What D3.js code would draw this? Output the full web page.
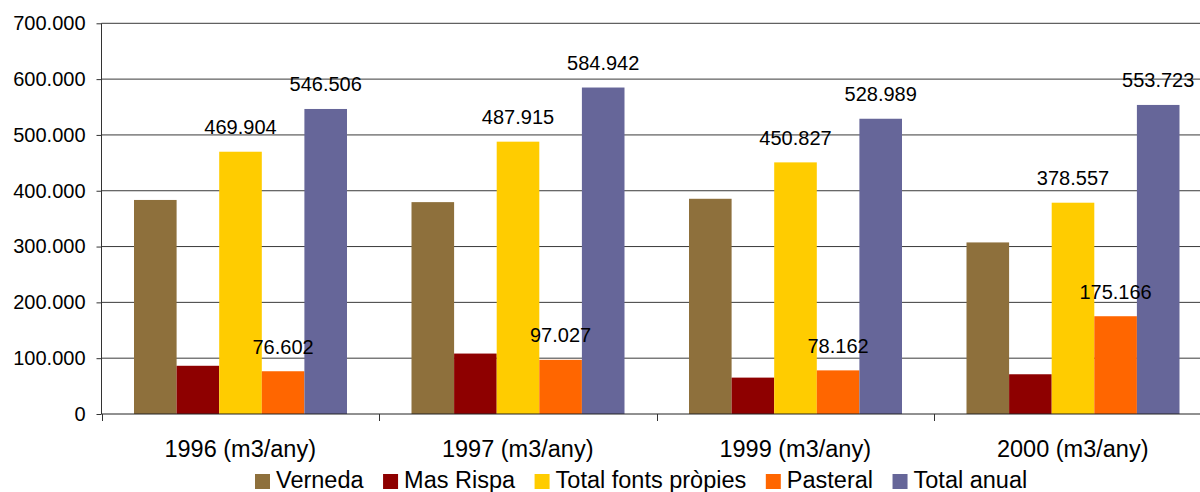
<!DOCTYPE html>
<html lang="ca">
  <head>
    <meta charset="utf-8">
    <title>Cabals anuals</title>
    <script src="https://d3js.org/d3.v7.min.js"></script>
    <style>
      body { margin: 0; background: #fff; }
      text { font-family: "Liberation Sans", Arial, sans-serif; fill: #000; }
    </style>
  </head>
  <body>
    <script type="text/javascript">
    var w = 1200;
    var h = 492;

    // data
    var categories = ["1996 (m3/any)", "1997 (m3/any)", "1999 (m3/any)", "2000 (m3/any)"];
    var seriesNames = ["Verneda", "Mas Rispa", "Total fonts pròpies", "Pasteral", "Total anual"];
    var seriesColors = ["#8E703C", "#8E0000", "#FFCC00", "#FF6600", "#666699"];
    var verneda   = [383500, 379600, 385600, 307400];
    var masRispa  = [86400, 108300, 65200, 71200];
    var totalFonts = [469904, 487915, 450827, 378557];
    var pasteral  = [76602, 97027, 78162, 175166];
    var totalAnual = [546506, 584942, 528989, 553723];
    var yTicks = [0, 100000, 200000, 300000, 400000, 500000, 600000, 700000];
    // which series get a value label
    var labelled = [false, false, true, true, true];

    var values = [verneda, masRispa, totalFonts, pasteral, totalAnual];

    var x0 = d3.scaleBand()
               .domain(categories)
               .range([101.5, 1211.5])
               .padding(0);

    var x1 = d3.scaleBand()
               .domain(d3.range(seriesNames.length))
               .range([32.5, 245.5])
               .padding(0);

    var y = d3.scaleLinear()
              .domain([0, 700000])
              .range([414, 23.3]);

    var fmt = function(v) {
      return d3.format(",")(v).replace(/,/g, ".");
    };

    var svg = d3.select("body")
                .append("svg")
                .attr("width", w)
                .attr("height", h);

    // gridlines
    svg.append("g")
       .selectAll("line")
       .data(yTicks.slice(1))
       .enter()
       .append("line")
       .attr("x1", 101.5)
       .attr("x2", w)
       .attr("y1", function(d) { return y(d); })
       .attr("y2", function(d) { return y(d); })
       .attr("stroke", "#3a3a3a")
       .attr("stroke-width", 1);

    // bars
    var table = [];
    categories.forEach(function(c, i) {
      seriesNames.forEach(function(s, j) {
        table.push({ cat: c, s: j, v: values[j][i] });
      });
    });

    svg.append("g")
       .selectAll("rect")
       .data(table)
       .enter()
       .append("rect")
       .attr("x", function(d) { return x0(d.cat) + x1(d.s); })
       .attr("y", function(d) { return y(d.v); })
       .attr("width", x1.bandwidth())
       .attr("height", function(d) { return y(0) - y(d.v); })
       .attr("fill", function(d) { return seriesColors[d.s]; });

    // y axis
    var yAxis = d3.axisLeft(y)
                  .tickValues(yTicks)
                  .tickSize(5)
                  .tickPadding(11)
                  .tickFormat(function(d) { return d === 0 ? "0" : fmt(d); });

    var gy = svg.append("g")
                .attr("transform", "translate(101.5,0)")
                .call(yAxis);
    gy.select(".domain").attr("stroke", "#333").attr("d", "M0,23.3V414");
    gy.selectAll(".tick line").attr("stroke", "#333");
    gy.selectAll("text")
      .style("font-family", "'Liberation Sans', Arial, sans-serif")
      .style("font-size", "20px")
      .attr("fill", "#000");

    // x axis
    var gx = svg.append("g")
                .attr("transform", "translate(0,414)");
    gx.append("line")
      .attr("x1", 101.5)
      .attr("x2", w)
      .attr("stroke", "#222");
    gx.selectAll(".sep")
      .data(categories.concat(["end"]))
      .enter()
      .append("line")
      .attr("class", "sep")
      .attr("x1", function(d, i) { return Math.round(x0.range()[0] + i * x0.step()) + 0.5; })
      .attr("x2", function(d, i) { return Math.round(x0.range()[0] + i * x0.step()) + 0.5; })
      .attr("y1", 0)
      .attr("y2", 7)
      .attr("stroke", "#333");
    gx.selectAll(".cat")
      .data(categories)
      .enter()
      .append("text")
      .attr("class", "cat")
      .attr("x", function(d) { return x0(d) + x0.bandwidth() / 2; })
      .attr("y", 43)
      .attr("text-anchor", "middle")
      .style("font-size", "23.5px")
      .text(function(d) { return d; });

    // value labels
    svg.append("g")
       .selectAll("text")
       .data(table.filter(function(d) { return labelled[d.s]; }))
       .enter()
       .append("text")
       .attr("x", function(d) { return x0(d.cat) + x1(d.s) + x1.bandwidth() / 2; })
       .attr("y", function(d) { return y(d.v) - 17.5; })
       .attr("text-anchor", "middle")
       .style("font-size", "20px")
       .text(function(d) { return fmt(d.v); });

    // legend
    var legend = svg.append("g");
    var lx = 255;
    seriesNames.forEach(function(s, j) {
      legend.append("rect")
            .attr("x", lx)
            .attr("y", 474)
            .attr("width", 15)
            .attr("height", 15)
            .attr("fill", seriesColors[j]);
      var t = legend.append("text")
            .attr("x", lx + 21)
            .attr("y", 488)
            .style("font-size", "23.5px")
            .text(s);
      lx = lx + 21 + t.node().getComputedTextLength() + 19.5;
    });
    </script>
  </body>
</html>
